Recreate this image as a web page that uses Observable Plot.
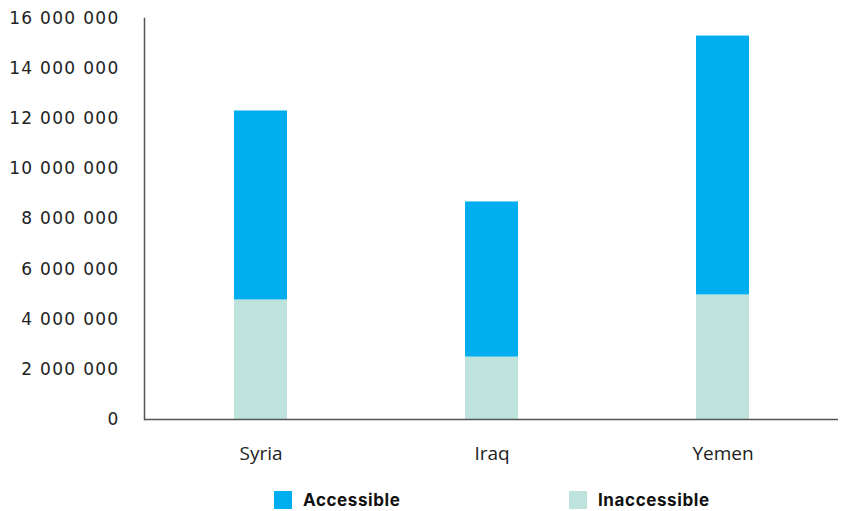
<!DOCTYPE html>
<html>
<head>
<meta charset="utf-8">
<script src="https://cdn.jsdelivr.net/npm/d3@7"></script>
<script src="https://cdn.jsdelivr.net/npm/@observablehq/plot@0.6"></script>
<style>
  html, body { margin: 0; padding: 0; background: #fff; }
  #wrap { position: relative; width: 842px; height: 511px; font-family: "Open Sans", sans-serif; }
  #legend { position: absolute; top: 490px; left: 0; width: 842px; height: 22px; }
  .item { position: absolute; display: flex; align-items: center; font-weight: 700; font-size: 17px; letter-spacing: 0.6px; color: #111; font-family: "Inter", sans-serif; }
  .sw { width: 18px; height: 18px; margin-right: 11px; }
  g[aria-label="y-axis tick label"] text { letter-spacing: 1.3px; }
</style>
</head>
<body>
<div id="wrap"><div id="chart"></div><div id="legend"></div></div>
<script>
const countries = ["Syria", "Iraq", "Yemen"];
const inaccessible = [4770000, 2490000, 4970000];
const accessible = [7540000, 6190000, 10330000];
const seriesNames = ["Accessible", "Inaccessible"];
const seriesColors = ["#00aeef", "#bde3dc"];
const yTicks = [0, 2000000, 4000000, 6000000, 8000000, 10000000, 12000000, 14000000, 16000000];

const data = [];
countries.forEach((c, i) => {
  data.push({country: c, series: "Inaccessible", value: inaccessible[i]});
  data.push({country: c, series: "Accessible", value: accessible[i]});
});

const fmt = d => d3.format(",")(d).replace(/,/g, " ");

const chart = Plot.plot({
  width: 842,
  height: 470,
  marginLeft: 144,
  marginRight: 4,
  marginTop: 18,
  marginBottom: 51,
  style: {fontFamily: "DejaVu Sans, sans-serif", fontSize: "16px", color: "#222"},
  x: {domain: countries, paddingInner: 0.771, paddingOuter: 0.3855, label: null},
  y: {domain: [0, 16000000], label: null},
  color: {domain: ["Inaccessible", "Accessible"], range: [seriesColors[1], seriesColors[0]]},
  marks: [
    Plot.barY(data, {x: "country", y: "value", fill: "series", order: ["Inaccessible", "Accessible"]}),
    Plot.axisY({ticks: yTicks, tickFormat: fmt, tickSize: 0, tickPadding: 25, fontSize: 17, fill: "#222"}),
    Plot.axisX({tickSize: 0, tickPadding: 27, fontSize: 19, fill: "#222", fontFamily: "Open Sans, sans-serif"}),
    Plot.ruleY([0], {stroke: "#555", strokeWidth: 1.5}),
    Plot.frame({anchor: "left", stroke: "#555", strokeWidth: 1.5})
  ]
});
document.getElementById("chart").appendChild(chart);

const legend = document.getElementById("legend");
const lefts = [274, 569];
seriesNames.forEach((n, i) => {
  const d = document.createElement("div");
  d.className = "item";
  d.style.left = lefts[i] + "px";
  d.innerHTML = `<span class="sw" style="background:${seriesColors[i]}"></span><span>${n}</span>`;
  legend.appendChild(d);
});
</script>
</body>
</html>
